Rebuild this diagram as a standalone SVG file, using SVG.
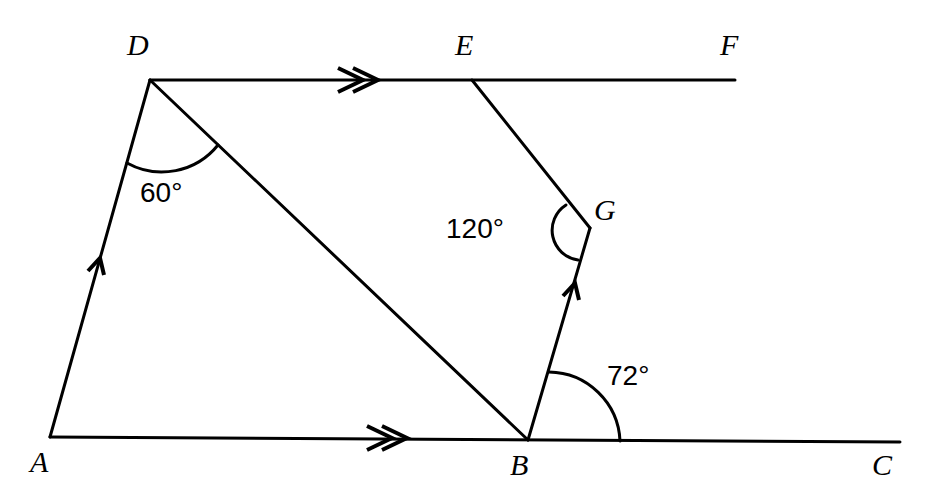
<svg xmlns="http://www.w3.org/2000/svg" width="929" height="504" viewBox="0 0 929 504">
<style>
.l{stroke:#000;stroke-width:3;fill:none;stroke-linecap:round}
.m{stroke:#000;stroke-width:4;fill:none;stroke-linejoin:miter}
.t{font-family:"Liberation Serif",serif;font-style:italic;font-size:30px;fill:#000}
.n{font-family:"Liberation Sans",sans-serif;font-size:28px;fill:#000}
</style>
<rect width="929" height="504" fill="#fff"/>
<g id="lines">
<path class="l" d="M150,80 L735,80"/>
<path class="l" d="M50,437 L900,442"/>
<path class="l" d="M50,437 L150,80"/>
<path class="l" d="M150,80 L528,440"/>
<path class="l" d="M472,80 L590,228"/>
<path class="l" d="M590,228 L528,440"/>
</g>
<g id="marks">
<path class="m" d="M88,271 L100,258 L104,275"/>
<path class="m" d="M563,296 L575,283 L579,300"/>
<path class="m" d="M338,68 L363,80 L338,92 M353,68 L378,80 L353,92"/>
<path class="m" d="M367,426 L392,438 L367,450 M382,426 L407,438 L382,450"/>
</g>
<g id="angles">
<path class="l" d="M127,163 A72,72 0 0 0 218,145"/>
<path class="l" d="M566,205 A30,30 0 0 0 578,260"/>
<path class="l" d="M549,372 A72,72 0 0 1 620,441"/>
</g>
<g id="labels">
<text class="t" x="127" y="55">D</text>
<text class="t" x="455" y="55">E</text>
<text class="t" x="720" y="55">F</text>
<text class="t" x="594" y="220">G</text>
<text class="t" x="30" y="472">A</text>
<text class="t" x="510" y="475">B</text>
<text class="t" x="872" y="475">C</text>
<text class="n" x="140" y="202">60°</text>
<text class="n" x="446" y="238">120°</text>
<text class="n" x="607" y="385">72°</text>
</g>
</svg>
